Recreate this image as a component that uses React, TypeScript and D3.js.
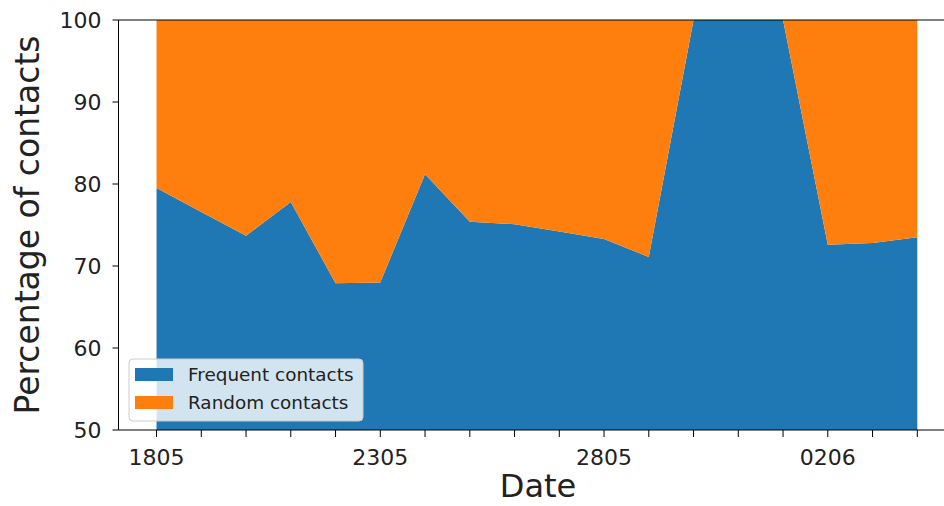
import React from "react";
import * as d3 from "d3";

const dates = ["1805","1905","2005","2105","2205","2305","2405","2505","2605","2705","2805","2905","3005","3105","0106","0206","0306","0406"];
const frequent = [79.5, 76.6, 73.7, 77.8, 67.9, 68.0, 81.2, 75.4, 75.1, 74.2, 73.3, 71.1, 100, 100, 100, 72.6, 72.8, 73.5];
const random = frequent.map((v) => 100 - v);
const seriesNames = ["Frequent contacts", "Random contacts"];
const colors = ["#1f77b4", "#ff7f0e"];
const yTicks = [50, 60, 70, 80, 90, 100];
const labeledDates = ["1805", "2305", "2805", "0206"];

const W = 944, H = 506;
const top = 20, bottom = 430, left = 118.5, dayW = 44.75;

export default function App() {
  const n = dates.length;
  const x = d3.scaleLinear().domain([-0.85, n - 1 + 0.85]).range([left, left + (n - 1 + 1.7) * dayW]);
  const y = d3.scaleLinear().domain([50, 100]).range([bottom, top]);
  const rows = dates.map((d, i) => ({ i, f: frequent[i], r: random[i] }));
  const stack = d3.stack<any>().keys(["f", "r"])(rows);
  const area = d3.area<any>().x((d) => x(d.data.i)).y0((d) => y(d[0])).y1((d) => y(d[1]));
  const font = "DejaVu Sans, sans-serif";
  const xRight = x.range()[1];
  return (
    <svg width={W} height={H} style={{ position: "absolute", left: 0, top: 0 }} fontFamily={font}>
      <defs>
        <clipPath id="plot">
          <rect x={left} y={top} width={xRight - left} height={bottom - top} />
        </clipPath>
      </defs>
      <rect x={0} y={0} width={W} height={H} fill="#fff" />
      <g clipPath="url(#plot)">
        {stack.map((s, k) => (
          <path key={k} d={area(s) || ""} fill={colors[k]} />
        ))}
      </g>
      {/* spines */}
      <line x1={left} x2={left} y1={top} y2={bottom} stroke="#000" strokeWidth={1} />
      <line x1={left} x2={xRight} y1={bottom} y2={bottom} stroke="#000" strokeWidth={1} />
      <line x1={left} x2={xRight} y1={top} y2={top} stroke="#000" strokeWidth={1} />
      {/* y ticks */}
      {yTicks.map((t) => (
        <g key={t}>
          <line x1={left - 6} x2={left} y1={y(t)} y2={y(t)} stroke="#000" strokeWidth={1} />
          <text x={left - 17} y={y(t)} dy="0.36em" textAnchor="end" fontSize={22} fill="#222">{t}</text>
        </g>
      ))}
      {/* x ticks */}
      {dates.map((d, i) => (
        <g key={d}>
          <line x1={x(i)} x2={x(i)} y1={bottom} y2={bottom + 7} stroke="#000" strokeWidth={1} />
          {labeledDates.includes(d) && (
            <text x={x(i)} y={bottom + 35} textAnchor="middle" fontSize={22} fill="#222">{d}</text>
          )}
        </g>
      ))}
      <text x={538} y={497} textAnchor="middle" fontSize={32} fill="#222">Date</text>
      <text transform={`translate(39,${(top + bottom) / 2}) rotate(-90)`} textAnchor="middle" fontSize={33} fill="#222">Percentage of contacts</text>
      {/* legend */}
      <g>
        <rect x={129} y={359} width={234} height={62} rx={4} fill="#fff" fillOpacity={0.8} stroke="#ccc" />
        {seriesNames.map((name, k) => (
          <g key={name}>
            <rect x={135} y={368 + k * 28} width={38} height={13} fill={colors[k]} />
            <text x={188} y={374.5 + k * 28} dy="0.36em" fontSize={18.4} fill="#222">{name}</text>
          </g>
        ))}
      </g>
    </svg>
  );
}
